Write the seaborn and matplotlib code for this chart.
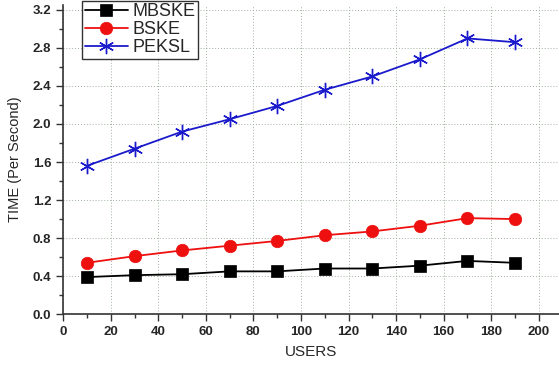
import matplotlib
matplotlib.use("Agg")
import matplotlib.pyplot as plt
import seaborn as sns
import pandas as pd
from matplotlib.ticker import MultipleLocator

users = [10, 30, 50, 70, 90, 110, 130, 150, 170, 190]
mbske = [0.39, 0.41, 0.42, 0.45, 0.45, 0.48, 0.48, 0.51, 0.56, 0.54]
bske = [0.54, 0.61, 0.67, 0.72, 0.77, 0.83, 0.87, 0.93, 1.01, 1.00]
peksl = [1.56, 1.74, 1.92, 2.05, 2.19, 2.36, 2.50, 2.68, 2.90, 2.86]

series = ["MBSKE", "BSKE", "PEKSL"]
colors = {"MBSKE": "#000000", "BSKE": "#ee0f0f", "PEKSL": "#1a1acc"}
markers = {"MBSKE": "s", "BSKE": "o", "PEKSL": (6, 2, 0)}

df = pd.concat([
    pd.DataFrame({"USERS": users, "TIME": vals, "series": name})
    for name, vals in zip(series, [mbske, bske, peksl])
])

sns.set_style("white")
plt.rcParams["font.family"] = ["Liberation Sans", "DejaVu Sans"]

fig = plt.figure(figsize=(5.59, 3.67), dpi=100)
ax = fig.add_axes([0.113, 0.144, 0.887, 0.842])

for name in series:
    sub = df[df["series"] == name]
    ms = 11 if name == "PEKSL" else 9
    sns.lineplot(data=sub, x="USERS", y="TIME", ax=ax, color=colors[name],
                 marker=markers[name], markersize=ms, linewidth=1.3,
                 markeredgecolor=colors[name], markeredgewidth=1.0 if name == "PEKSL" else 0.5,
                 label=name)

ax.set_xlim(0, 208.5)
ax.set_ylim(0, 3.25)
ax.xaxis.set_major_locator(MultipleLocator(20))
ax.xaxis.set_minor_locator(MultipleLocator(10))
ax.yaxis.set_major_locator(MultipleLocator(0.4))
ax.yaxis.set_minor_locator(MultipleLocator(0.2))
ax.yaxis.set_major_formatter(matplotlib.ticker.FormatStrFormatter("%.1f"))

ax.grid(True, which="major", linestyle=(0, (1, 2)), color="#a0b0a0", linewidth=0.7)
for side in ["top", "right"]:
    ax.spines[side].set_visible(False)
for side in ["left", "bottom"]:
    ax.spines[side].set_color("#333333")
    ax.spines[side].set_linewidth(1.2)

ax.tick_params(axis="both", which="major", direction="out", length=5, width=1,
               color="#333333", labelsize=9.5, bottom=True, left=True)
ax.tick_params(axis="both", which="minor", direction="out", length=3, width=1,
               color="#333333", bottom=True, left=True)
for lbl in ax.get_xticklabels() + ax.get_yticklabels():
    lbl.set_fontweight("bold")

ax.set_xlabel("USERS", fontsize=11, labelpad=5)
ax.set_ylabel("TIME (Per Second)", fontsize=10.5, labelpad=8)

leg = ax.legend(loc="upper left", bbox_to_anchor=(0.038, 1.015), frameon=True,
                fancybox=False, fontsize=13, handlelength=2.4, borderpad=0.15,
                labelspacing=0.05, handletextpad=0.25, borderaxespad=0)
leg.get_frame().set_edgecolor("#000000")
leg.get_frame().set_linewidth(1.0)

fig.savefig("out.png", dpi=100)
